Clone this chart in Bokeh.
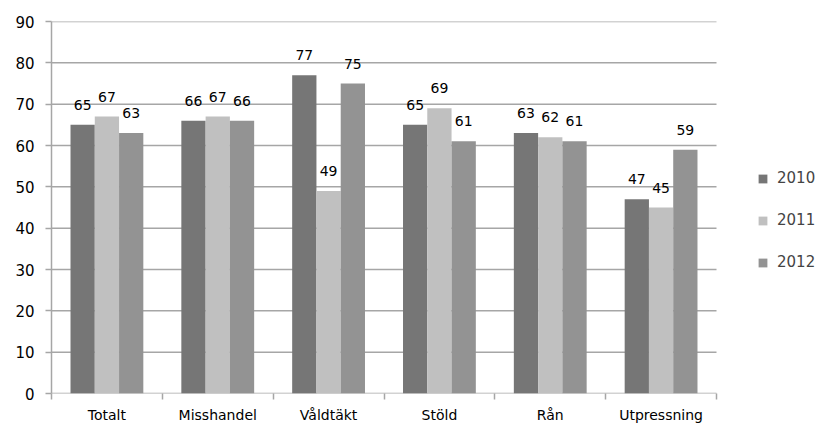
from bokeh.plotting import figure
from bokeh.models import ColumnDataSource, FixedTicker, Range1d, Legend, LegendItem
from bokeh.core.properties import value
from bokeh.embed import file_html
from bokeh.resources import INLINE

categories = ["Totalt", "Misshandel", "Våldtäkt", "Stöld", "Rån", "Utpressning"]
years = ["2010", "2011", "2012"]
v2010 = [65, 66, 77, 65, 63, 47]
v2011 = [67, 67, 49, 69, 62, 45]
v2012 = [63, 66, 75, 61, 61, 59]
colors = ["#767676", "#c0c0c0", "#939393"]
y_ticks = [0, 10, 20, 30, 40, 50, 60, 70, 80, 90]

FONT = "DejaVu Sans"
W, H = 821, 427
left, top, bottom = 51, 21, 34
plot_px = 665            # width of the category area in pixels
n = len(categories)
x_end = n * (W - left) / plot_px

p = figure(width=W, height=H, output_backend="svg", toolbar_location=None,
           x_range=Range1d(0, x_end), y_range=Range1d(0, 90),
           min_border_left=left, min_border_right=0, min_border_top=top,
           min_border_bottom=bottom)
p.outline_line_color = None
p.background_fill_color = "white"

grid_color = "#a6a6a6"
p.xgrid.grid_line_color = None
p.ygrid.grid_line_color = None
# horizontal gridlines limited to the category area
p.segment(x0=[0] * len(y_ticks), x1=[n] * len(y_ticks), y0=y_ticks, y1=y_ticks,
          line_color=grid_color, line_width=1.5)

p.yaxis.ticker = FixedTicker(ticks=y_ticks)
p.yaxis.axis_line_color = grid_color
p.yaxis.axis_line_width = 1.5
p.yaxis.major_tick_line_color = grid_color
p.yaxis.major_tick_line_width = 1.5
p.yaxis.major_tick_in = 0
p.yaxis.major_tick_out = 6
p.yaxis.minor_tick_line_color = None
p.yaxis.major_label_text_font = FONT
p.yaxis.major_label_text_font_size = "15px"
p.yaxis.major_label_text_color = "black"
p.yaxis.major_label_standoff = 11

centers = [i + 0.5 for i in range(n)]
p.xaxis.ticker = FixedTicker(ticks=centers, minor_ticks=list(range(n + 1)))
p.xaxis.major_label_overrides = {c: name for c, name in zip(centers, categories)}
p.xaxis.axis_line_color = None
p.xaxis.major_tick_line_color = None
p.xaxis.major_tick_in = 0
p.xaxis.major_tick_out = 6
p.xaxis.minor_tick_line_color = grid_color
p.xaxis.minor_tick_line_width = 1.5
p.xaxis.minor_tick_in = 0
p.xaxis.minor_tick_out = 6
p.xaxis.major_label_text_font = FONT
p.xaxis.major_label_text_font_size = "14px"
p.xaxis.major_label_text_color = "black"
p.xaxis.major_label_standoff = 7

bw = 0.219
offsets = [-bw, 0.0, bw]
series = [v2010, v2011, v2012]
items = []
for yr, vals, col, off in zip(years, series, colors, offsets):
    src = ColumnDataSource(dict(x=[c + off for c in centers], top=vals,
                                lab=[str(v) for v in vals]))
    r = p.vbar(x="x", top="top", width=bw, source=src, fill_color=col, line_color=None)
    p.text(x="x", y="top", text="lab", source=src, text_align="center",
           text_baseline="alphabetic", y_offset=-20, text_font=value(FONT),
           text_font_size="14px", text_color="black")
    items.append(LegendItem(label=yr, renderers=[r]))

legend = Legend(items=items, location=(706, 122), orientation="vertical",
                glyph_width=11, glyph_height=11, label_height=11, spacing=24,
                label_standoff=9, padding=0, margin=0,
                label_text_font=FONT, label_text_font_size="15px",
                background_fill_alpha=0, border_line_color=None)
p.add_layout(legend, "center")

open("out.html", "w").write(file_html(p, INLINE))
